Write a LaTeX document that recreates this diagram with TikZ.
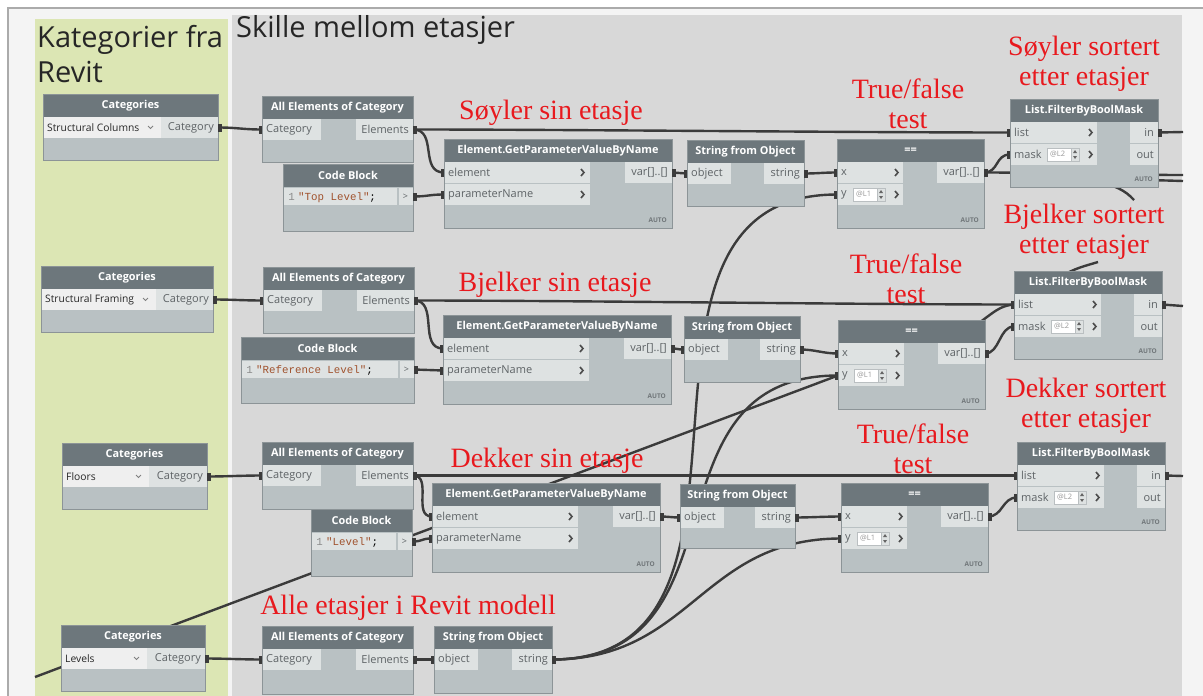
\documentclass[tikz,border=0pt]{standalone}
\usepackage{fontspec}
\setmainfont{Liberation Serif}
\setsansfont{Open Sans}
\setmonofont{Liberation Mono}
\usetikzlibrary{calc}
\definecolor{Canvas}{HTML}{F4F4F4}
\definecolor{Frame}{HTML}{ABABAB}
\definecolor{GroupGreen}{HTML}{DCE6B4}
\definecolor{GroupGrey}{HTML}{D8D8D8}
\definecolor{Head}{HTML}{6D777C}
\definecolor{Body}{HTML}{B9C1C3}
\definecolor{Port}{HTML}{DEE2E2}
\definecolor{Edge}{HTML}{8C9497}
\definecolor{PortText}{HTML}{5E6366}
\definecolor{Wire}{HTML}{3B3B3B}
\definecolor{Note}{HTML}{E8191E}
\definecolor{Code}{HTML}{A0522D}
\definecolor{Drop}{HTML}{EFEFEF}

\pgfdeclarelayer{groups}
\pgfdeclarelayer{wires}
\pgfsetlayers{groups,wires,main}

\tikzset{
  dynbox/.style={fill=Body,draw=Edge,line width=1pt,inner sep=0pt,outer sep=0pt,anchor=north west},
  dyntitle/.style={text=white,font=\sffamily\bfseries\fontsize{10.9}{12}\selectfont,inner sep=0pt},
  portlbl/.style={text=PortText,font=\sffamily\fontsize{11}{13}\selectfont,inner sep=0pt},
  droptext/.style={text=black!85,font=\sffamily\fontsize{10.3}{11}\selectfont,inner sep=0pt},
  codetext/.style={font=\ttfamily\fontsize{10.8}{12}\selectfont,inner sep=0pt},
  wire/.style={draw=Wire,line width=2.4pt},
  chev/.style={draw=black!70,line width=1.6pt},
  note/.style={text=Note,font=\rmfamily\fontsize{28}{30}\selectfont,align=center,inner sep=0pt},
  grouptitle/.style={text=black!85,font=\sffamily\fontsize{29}{35}\selectfont,inner sep=0pt,align=left},
  autotag/.style={text=Edge!80!black,font=\sffamily\bfseries\fontsize{6.5}{7}\selectfont,inner sep=0pt,anchor=south east},
}

% node frame with header: name, x, y, width, height, title
\newcommand\dynnode[6]{%
  \node[dynbox,minimum width=#4pt,minimum height=#5pt] (#1) at (#2,#3) {};
  \fill[Head] (#1.north west) rectangle ($(#1.north east)+(0,23)$);
  \node[dyntitle] at ($(#1.north)+(0,11.5)$) {#6};
  \draw[Edge,line width=1pt] (#1.north west) rectangle (#1.south east);
}
% ports: node, port, row, cell width, label
\newcommand\inport[5]{%
  \fill[Port] ($(#1.north west)+(0.5,{23+#3*22})$) rectangle ++({#4},21);
  \node[portlbl,anchor=west] at ($(#1.north west)+(4,{33.5+#3*22})$) {#5};
  \coordinate (#1-#2) at ($(#1.north west)+(0,{33.5+#3*22})$);
}
\newcommand\outport[5]{%
  \fill[Port] ($(#1.north east)+({-(#4)-0.5},{23+#3*22})$) rectangle ++({#4},21);
  \node[portlbl,anchor=east] at ($(#1.north east)+(-4,{33.5+#3*22})$) {#5};
  \coordinate (#1-#2) at ($(#1.north east)+(0,{33.5+#3*22})$);
}
\newcommand\chevron[3]{%
  \draw[chev] ($(#1.north west)+({#2-2},{#3-3.5})$) -- ++(3,3.5) -- ++(-3,3.5);
}
\newcommand\spinner[4]{%
  \draw[Edge!60,fill=white] ($(#1.north west)+(#2,{#3-6.5})$) rectangle ++(32,13);
  \node[font=\sffamily\fontsize{7.5}{8}\selectfont,text=black!40,anchor=west,inner sep=0pt]
    at ($(#1.north west)+({#2+3},#3)$) {#4};
  \draw[Edge!60,fill=Port] ($(#1.north west)+({#2+24},{#3-6.5})$) rectangle ++(8,13);
  \fill[black!60] ($(#1.north west)+({#2+26},{#3-1.5})$) -- ++(4,0) -- ++(-2,-3) -- cycle;
  \fill[black!60] ($(#1.north west)+({#2+26},{#3+1.5})$) -- ++(4,0) -- ++(-2,3) -- cycle;
}
\newcommand\autotag[1]{\node[autotag] at ($(#1.south east)+(-5,-5)$) {AUTO};}

% Dynamo nodes used below
\newcommand\catnode[6]{% name, x, y, width, dropdown width, category
  \dynnode{#1}{#2}{#3}{#4}{66}{Categories}
  \fill[Drop] ($(#1.north west)+(0.5,23)$) rectangle ++({#5},21);
  \node[droptext,anchor=west] at ($(#1.north west)+(4,33.5)$) {#6};
  \draw[black!50,line width=0.8pt] ($(#1.north west)+({#5-12},32)$) -- ++(2.5,2.5) -- ++(2.5,-2.5);
  \outport{#1}{cat}{0}{#4-#5-1.5}{Category}
}
\newcommand\allnode[4]{%
  \dynnode{#1}{#2}{#3}{151}{#4}{All Elements of Category}
  \inport{#1}{cat}{0}{58}{Category}
  \outport{#1}{elem}{0}{57}{Elements}
}
\newcommand\codenode[6]{% name, x, y, width, height, code
  \dynnode{#1}{#2}{#3}{#4}{#5}{Code Block}
  \fill[Port] ($(#1.north west)+(0.5,24)$) rectangle ($(#1.north east)+(-16,41)$);
  \fill[Port] ($(#1.north east)+(-14.5,24)$) rectangle ($(#1.north east)+(-0.5,41)$);
  \node[codetext,text=black!45,anchor=base east] at ($(#1.north west)+(12,36.5)$) {1};
  \node[codetext,anchor=base west] at ($(#1.north west)+(15,36.5)$) {\textcolor{Code}{"#6"};};
  \node[portlbl,font=\sffamily\fontsize{9}{10}\selectfont] at ($(#1.north east)+(-7.5,32.5)$) {>};
  \coordinate (#1-out) at ($(#1.north east)+(0,32.5)$);
}
\newcommand\getnode[3]{%
  \dynnode{#1}{#2}{#3}{228}{89}{Element.GetParameterValueByName}
  \inport{#1}{element}{0}{145}{element}
  \inport{#1}{param}{1}{145}{parameterName}
  \chevron{#1}{139}{33.5}
  \chevron{#1}{139}{55.5}
  \outport{#1}{var}{0}{47}{var[]..[]}
  \autotag{#1}
}
\newcommand\strnode[5]{%
  \dynnode{#1}{#2}{#3}{#4}{#5}{String from Object}
  \inport{#1}{obj}{0}{43}{object}
  \outport{#1}{str}{0}{40}{string}
}
\newcommand\eqnode[3]{%
  \dynnode{#1}{#2}{#3}{147}{89}{==}
  \inport{#1}{x}{0}{65}{x}
  \inport{#1}{y}{1}{65}{y}
  \chevron{#1}{60}{33.5}
  \spinner{#1}{16}{55.5}{@L1}
  \chevron{#1}{60}{55.5}
  \outport{#1}{var}{0}{47}{var[]..[]}
  \autotag{#1}
}
\newcommand\filternode[3]{%
  \dynnode{#1}{#2}{#3}{148}{88}{List.FilterByBoolMask}
  \inport{#1}{list}{0}{86}{list}
  \inport{#1}{mask}{1}{86}{mask}
  \chevron{#1}{81}{33.5}
  \spinner{#1}{37}{55.5}{@L2}
  \chevron{#1}{81}{55.5}
  \outport{#1}{in}{0}{28}{in}
  \outport{#1}{out}{1}{28}{out}
  \autotag{#1}
}

% wires: port stubs sit on top of the nodes
\newcommand\nub[2]{\fill[Wire] ($(#1)+(0,-4)$) rectangle ++({#2*3.5},8);}
\newcommand\wire[3]{%
  \begin{pgfonlayer}{wires}
    \draw[wire] (#1) .. controls +(#3,0) and +(-#3,0) .. (#2);
  \end{pgfonlayer}
  \nub{#1}{1}\nub{#2}{-1}}
\newcommand\loosewire[1]{%
  \begin{pgfonlayer}{wires}\draw[wire] #1;\end{pgfonlayer}}

\begin{document}
\begin{tikzpicture}[x=1pt,y=-1pt]
  \useasboundingbox (0,0) rectangle (1203,696);
  \begin{pgfonlayer}{groups}
    \fill[white] (0,0) rectangle (1203,696);
    \fill[Canvas] (8,8) rectangle (1203,696);
    \draw[Frame,line width=1.5pt] (8,696) -- (8,8) -- (1203,8);
    \fill[GroupGreen] (35,19) rectangle (228,696);
    \fill[GroupGrey] (232,15) rectangle (1182,696);
  \end{pgfonlayer}
  \node[grouptitle,anchor=north west] (revit) at (37,25) {Kategorier fra\\Revit};
  \node[grouptitle,anchor=base west] (floors) at (236,37) {Skille mellom etasjer};

  % columns
  \catnode{c1}{43}{94}{175}{117}{Structural Columns}
  \allnode{a1}{262}{96}{66}
  \codenode{cb1}{283}{164}{130}{67}{Top Level}
  \getnode{g1}{444}{139}
  \strnode{s1}{687}{140}{117}{66}
  \eqnode{e1}{837}{139}
  \filternode{f1}{1010}{99}
  % beams
  \catnode{c2}{41}{266}{172}{114}{Structural Framing}
  \allnode{a2}{263}{267}{66}
  \codenode{cb2}{241}{337}{173}{66}{Reference Level}
  \getnode{g2}{443}{315}
  \strnode{s2}{684}{316}{116}{66}
  \eqnode{e2}{838}{320}
  \filternode{f2}{1014}{271}
  % floors
  \catnode{c3}{62}{443}{145}{86}{Floors}
  \allnode{a3}{262}{442}{67}
  \codenode{cb3}{311}{509}{101}{67}{Level}
  \getnode{g3}{432}{483}
  \strnode{s3}{680}{484}{115}{64}
  \eqnode{e3}{841}{483}
  \filternode{f3}{1017}{442}
  % levels
  \catnode{c4}{61}{625}{144}{85}{Levels}
  \allnode{a4}{262}{626}{68}
  \strnode{s4}{434}{626}{118}{67}

  \node[note] (n1) at (551,113) {Søyler sin etasje};
  \node[note] (t1) at (908,104) {True/false\\test};
  \node[note] (r1) at (1084,64) {Søyler sortert\\etter etasjer};
  \node[note] (n2) at (555,285) {Bjelker sin etasje};
  \node[note] (t2) at (906,279) {True/false\\test};
  \node[note] (r2) at (1084,232) {Bjelker sortert\\etter etasjer};
  \node[note] (n3) at (547,461) {Dekker sin etasje};
  \node[note] (t3) at (913,449) {True/false\\test};
  \node[note] (r3) at (1086,406) {Dekker sortert\\etter etasjer};
  \node[note] (n4) at (408,608) {Alle etasjer i Revit modell};

  \wire{c1-cat}{a1-cat}{20}
  \wire{a1-elem}{f1-list}{150}
  \wire{a1-elem}{g1-element}{25}
  \wire{cb1-out}{g1-param}{15}
  \wire{g1-var}{s1-obj}{8}
  \wire{s1-str}{e1-x}{15}
  \wire{e1-var}{f1-mask}{15}

  \wire{c2-cat}{a2-cat}{20}
  \wire{a2-elem}{f2-list}{150}
  \wire{a2-elem}{g2-element}{25}
  \wire{cb2-out}{g2-param}{15}
  \wire{g2-var}{s2-obj}{8}
  \wire{s2-str}{e2-x}{15}
  \wire{e2-var}{f2-mask}{15}

  \wire{c3-cat}{a3-cat}{20}
  \wire{a3-elem}{f3-list}{150}
  \wire{a3-elem}{g3-element}{20}
  \wire{cb3-out}{g3-param}{12}
  \wire{g3-var}{s3-obj}{8}
  \wire{s3-str}{e3-x}{15}
  \wire{e3-var}{f3-mask}{15}

  \wire{c4-cat}{a4-cat}{20}
  \wire{a4-elem}{s4-obj}{8}
  \wire{s4-str}{e1-y}{250}
  \wire{s4-str}{e2-y}{200}
  \wire{s4-str}{e3-y}{140}

  % outputs leaving the view
  \coordinate (out1) at (1183,132);
  \coordinate (out2) at (1183,306);
  \coordinate (out3) at (1183,476);
  \coordinate (out4) at (1183,175);
  \coordinate (out5) at (1183,181);
  \coordinate (far) at (35,677);
  \loosewire{(f1-in) -- (out1)}
  \loosewire{(f2-in) -- (out2)}
  \loosewire{(f3-in) -- (out3)}
  \loosewire{(e1-var) .. controls +(60,0) and +(-60,0) .. (out4)}
  \loosewire{(1120,180) .. controls (1150,180) .. (out5)}
  \loosewire{(far) .. controls (320,570) and (640,450) .. (e2-y)}
  \loosewire{(960,335) .. controls (990,318) and (995,306) .. (f2-list)}
  \loosewire{(1060,277) .. controls (1075,268) and (1085,266) .. (1098,262)}
  \loosewire{(1100,182) .. controls (1115,186) and (1125,190) .. (1134,200)}
  \nub{f1-in}{1}\nub{f2-in}{1}\nub{f3-in}{1}
\end{tikzpicture}
\end{document}
